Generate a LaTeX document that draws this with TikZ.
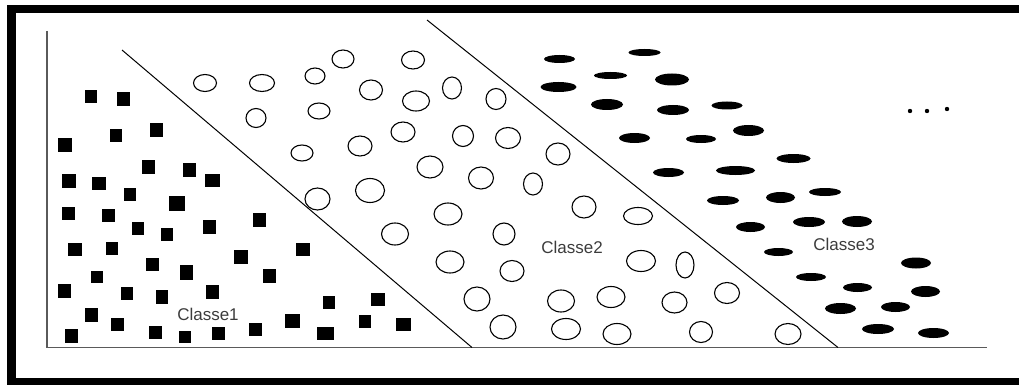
\documentclass[tikz,border=0pt]{standalone}
\usepackage{fontspec}
\setmainfont{Liberation Sans}
\definecolor{axisgray}{HTML}{5A5A5A}
\definecolor{labelgray}{HTML}{3C3C3C}
\begin{document}
\begin{tikzpicture}[x=1pt,y=-1pt,
  framebar/.style={fill=black},
  axisline/.style={draw=axisgray,line width=1.6pt},
  sepline/.style={draw=black,line width=1pt},
  sqpt/.style={fill=black},
  circpt/.style={draw=black,line width=1.1pt,fill=white},
  ellpt/.style={fill=black},
  classlabel/.style={text=labelgray,font=\fontsize{17}{20}\selectfont,inner sep=0pt}]
\useasboundingbox (0,0) rectangle (1019,385);
% frame
\fill[framebar] (7,5) rectangle (1019,13);
\fill[framebar] (7,5) rectangle (16,385);
\fill[framebar] (7,378) rectangle (1019,385);
% axes
\coordinate (otop) at (47,31);
\coordinate (orig) at (47,347.5);
\coordinate (xend) at (987,347.5);
\draw[axisline] (otop) -- (orig) -- (xend);
% separators
\coordinate (s1a) at (122,50);
\coordinate (s1b) at (472,347.5);
\coordinate (s2a) at (427,20);
\coordinate (s2b) at (838,347.5);
\draw[sepline] (s1a) -- (s1b);
\draw[sepline] (s2a) -- (s2b);
% class 1 squares
\foreach \x/\y/\w/\h in {91/97/12/13,123/99/13/14,116/135/12/13,156/130/13/14,65/145/14/14,148/167/13/14,189/170/13/14,212/180/15/13,69/181/14/14,99/183/14/13,
130/194/12/13,177/203/16/15,68/213/13/13,108/215/13/13,138/228/12/13,167/234/12/13,209/227/13/14,259/220/13/14,75/249/14/13,112/248/12/13,
152/264/13/13,186/272/13/15,241/257/14/14,303/249/14/13,269/276/13/14,97/277/12/12,64/291/13/14,127/293/12/13,162/297/12/14,212/292/13/14,
329/302/12/13,91/315/13/14,117/324/13/13,71/336/13/14,155/332/13/13,185/337/12/12,218/333/13/13,255/329/13/13,292/321/15/14,325/333/17/13,
378/299/14/13,365/321/12/13,403/324/15/13}
  \fill[sqpt] (\x-\w/2,\y-\h/2) rectangle (\x+\w/2,\y+\h/2);
% class 2 circles
\foreach \x/\y/\a/\b in {205/83/11.5/8.5,262/83/12.5/8.5,315/76/10/8,343/59/11/9,413/60/11.5/9,
256/118/10/9.5,319/111/11/8,371/90/11.5/10,416/101/13.5/10,452/88/9.5/11,496/99/10/10.5,
302/153/11/8,360/146/12/10,403/132/12/10,463/136/10.5/10.5,508/138/12.5/10.5,558/154/12/11,
317.5/199/12.5/11,370/190.5/14.5/12,430/167/13/11,481/178/12.5/11,533/184/9.5/11,584/207/12/11,638/216/14.5/8.5,
448/214/14/11,395/234/13.5/11,504/234/11/11,450/262/14/11,512/271/12/10.5,641/261/14.5/10.5,685/265/9/13,
477/299/13/12,561/301/13.5/11,611/297/14/10.5,674.5/302.5/12.5/10.5,727/293/12.5/10.5,
503/327/13/12,566/329/14.5/10.5,617/334/14/10.5,701/332/11.5/10.5,788/334/13/10.5}
  \draw[circpt] (\x,\y) ellipse [x radius=\a pt, y radius=\b pt];
% class 3 filled ellipses
\foreach \x/\y/\a/\b in {559.5/59/15.5/4,644.5/52.5/16/3.5,558.5/87/18/5,610.5/75.5/16.5/3.5,672/79.5/17/6,607/104.5/16/5.5,673/110/16/5,
727/105.5/15.5/4,634.5/138/15.5/5,701/139/15/4,748.5/130.5/15.5/5.5,668.5/172.5/15.5/4.5,735.5/170.5/19.5/4.5,793.5/158.5/17/4.5,
723/200.5/16/4.5,780.5/197.5/14.5/5.5,825/192/16/4,750.5/227/14.5/5,809/222/16/5,857/221.5/15/5.5,
778.5/252/14.5/4,811/277/15/4,916/263/15/5.5,857.5/287.5/14.5/4.5,925.5/291.5/14.5/5.5,840.5/308.5/15.5/5.5,895.5/307/14.5/5,
878/329/16/5,933.5/333/15.5/5}
  \fill[ellpt] (\x,\y) ellipse [x radius=\a pt, y radius=\b pt];
% dots
\foreach \x/\y in {910/111,927/111,947/109}
  \fill (\x,\y) circle [radius=2.2pt];
% labels
\node[classlabel] (c1) at (208,314) {Classe1};
\node[classlabel] (c2) at (572,247) {Classe2};
\node[classlabel] (c3) at (844,244) {Classe3};
\end{tikzpicture}
\end{document}
